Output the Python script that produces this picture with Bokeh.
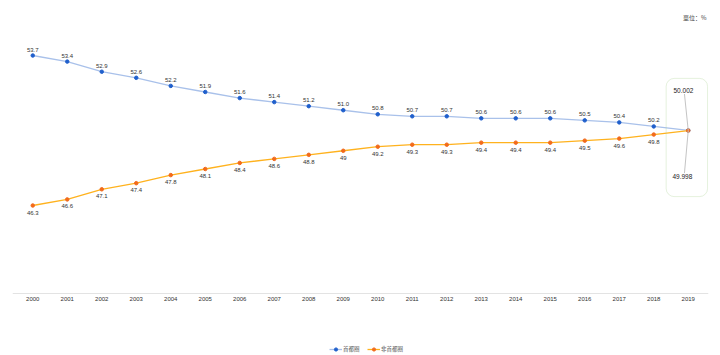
from bokeh.plotting import figure
from bokeh.models import FactorRange, Range1d, Legend, LegendItem, BoxAnnotation, Label, ColumnDataSource
from bokeh.core.properties import value
from bokeh.embed import file_html
from bokeh.resources import INLINE

years = [str(y) for y in range(2000, 2020)]
capital = [53.7, 53.4, 52.9, 52.6, 52.2, 51.9, 51.6, 51.4, 51.2, 51.0, 50.8, 50.7, 50.7,
           50.6, 50.6, 50.6, 50.5, 50.4, 50.2, 50.002]
capital_labels = ["53.7", "53.4", "52.9", "52.6", "52.2", "51.9", "51.6", "51.4", "51.2", "51.0",
                  "50.8", "50.7", "50.7", "50.6", "50.6", "50.6", "50.5", "50.4", "50.2"]
non_capital = [46.3, 46.6, 47.1, 47.4, 47.8, 48.1, 48.4, 48.6, 48.8, 49, 49.2, 49.3, 49.3,
               49.4, 49.4, 49.4, 49.5, 49.6, 49.8, 49.998]
non_capital_labels = ["46.3", "46.6", "47.1", "47.4", "47.8", "48.1", "48.4", "48.6", "48.8", "49",
                      "49.2", "49.3", "49.3", "49.4", "49.4", "49.4", "49.5", "49.6", "49.8"]
series_names = ["首都圈", "非首都圈"]
unit_text = "單位：%"
axis_base = 41.96

FONT = "Liberation Sans"
CJK = "Noto Sans CJK SC"

p = figure(width=720, height=355, output_backend="svg", toolbar_location=None,
           x_range=FactorRange(*years, range_padding=0.087, range_padding_units="absolute"),
           y_range=Range1d(38.90, 55.92),
           min_border_left=12, min_border_right=12, min_border_top=10, min_border_bottom=0)
p.x_range.factor_padding = 0
p.outline_line_color = None
p.grid.visible = False
p.yaxis.visible = False
xa = p.xaxis[0]
xa.fixed_location = axis_base
xa.axis_line_color = "#e3e3e3"
xa.major_tick_line_color = None
xa.minor_tick_line_color = None
xa.major_tick_out = 0
xa.major_tick_in = 0
xa.major_label_text_font = FONT
xa.major_label_text_font_size = "6px"
xa.major_label_text_color = "#333333"
xa.major_label_standoff = 4

blue_line = "#a9c1ea"
blue_pt = "#1f5fcc"
orange_line = "#ffb21e"
orange_pt = "#f26a1b"

r1l = p.line(years, capital, line_color=blue_line, line_width=1.3)
r1s = p.scatter(years, capital, size=3.5, fill_color=blue_pt, line_color=blue_pt)
r2l = p.line(years, non_capital, line_color=orange_line, line_width=1.3)
r2s = p.scatter(years, non_capital, size=3.5, fill_color=orange_pt, line_color=orange_pt)

src_c = ColumnDataSource(dict(x=years[:-1], y=capital[:-1], t=capital_labels))
src_n = ColumnDataSource(dict(x=years[:-1], y=non_capital[:-1], t=non_capital_labels))
p.text(x="x", y="y", text="t", source=src_c, text_font=value(FONT), text_font_size="6px",
       text_color="#333333", text_align="center", text_baseline="bottom", y_offset=-4)
p.text(x="x", y="y", text="t", source=src_n, text_font=value(FONT), text_font_size="6px",
       text_color="#333333", text_align="center", text_baseline="top", y_offset=5)

# highlighted 2019 callout
box = BoxAnnotation(left=18.86, right=20.06, bottom=46.74, top=52.57,
                    fill_color=None, line_color="#a9d08e", line_width=1, border_radius=8)
p.add_layout(box)
p.segment(x0=[19.39, 19.39], y0=[51.8, 47.9], x1=[19.5, 19.5], y1=[capital[-1], non_capital[-1]],
          line_color="#c4c4c4", line_width=1)
p.text(x=[19.36, 19.33], y=[51.97, 47.73], text=[f"{capital[-1]:.3f}", f"{non_capital[-1]:.3f}"],
       text_font=value(FONT), text_font_size="6.5px", text_color="#222222",
       text_align="center", text_baseline="middle")

p.add_layout(Label(x=20.03, y=55.57, text=unit_text, text_font=CJK, text_font_size="6px",
                   text_color="#444444", text_align="right", text_baseline="middle"))

legend = Legend(items=[LegendItem(label=series_names[0], renderers=[r1l, r1s]),
                       LegendItem(label=series_names[1], renderers=[r2l, r2s])],
                orientation="horizontal", location=(317, 2),
                label_text_font=CJK, label_text_font_size="5.5px", label_text_color="#555555",
                glyph_width=13, glyph_height=8, label_standoff=1, spacing=4,
                padding=0, margin=0, border_line_color=None, background_fill_alpha=0,
                label_height=8)
p.add_layout(legend, "center")

open("out.html", "w").write(file_html(p, INLINE))
